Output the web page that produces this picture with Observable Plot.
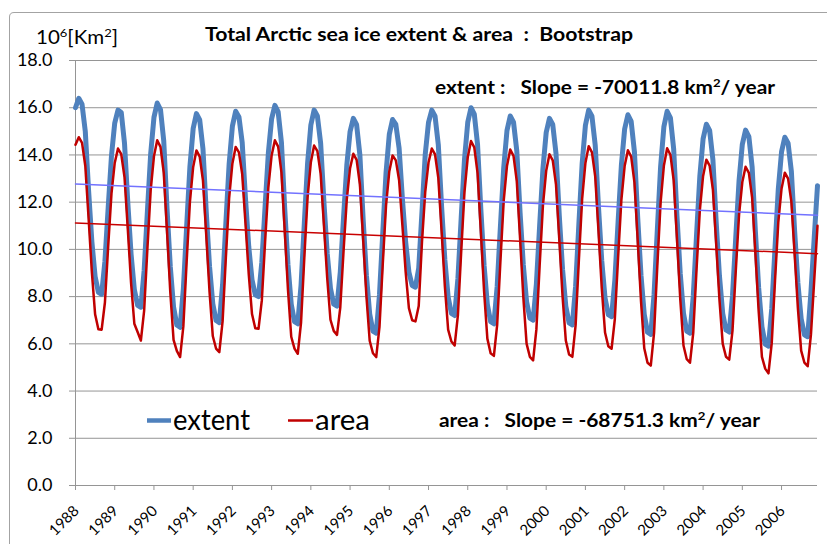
<!DOCTYPE html>
<html>
<head>
<meta charset="utf-8">
<script src="https://cdn.jsdelivr.net/npm/d3@7"></script>
<script src="https://cdn.jsdelivr.net/npm/@observablehq/plot@0.6"></script>
<style>
  html, body { margin: 0; padding: 0; background: #fff; }
  #wrap { position: relative; width: 827px; height: 544px; overflow: hidden; background: #fff; }
  #chart, #overlay { position: absolute; left: 0; top: 0; }
  #overlay { pointer-events: none; }
  #overlay text { white-space: pre; font-family: Lato, "DejaVu Sans", sans-serif; fill: #000; }
</style>
</head>
<body>
<div id="wrap">
  <div id="chart"></div>
  <svg id="overlay" width="827" height="544" xmlns="http://www.w3.org/2000/svg">
    <path d="M9.5,544 V17 Q9.5,12.5 14,12.5 H827" fill="none" stroke="#a3a3a3" stroke-width="1"/>
    <text x="205" y="41" font-size="19" font-weight="bold" textLength="428" lengthAdjust="spacingAndGlyphs">Total Arctic sea ice extent &amp; area  :  Bootstrap</text>
    <text x="36" y="44" font-size="19" textLength="82" lengthAdjust="spacingAndGlyphs">10<tspan dy="-7" font-size="12">6</tspan><tspan dy="7">[Km</tspan><tspan dy="-7" font-size="12">2</tspan><tspan dy="7">]</tspan></text>
    <text x="435" y="94" font-size="19" font-weight="bold" textLength="340" lengthAdjust="spacingAndGlyphs">extent :   Slope = -70011.8 km<tspan dy="-7" font-size="12">2</tspan><tspan dy="7">/ year</tspan></text>
    <text x="439" y="427" font-size="19" font-weight="bold" textLength="321" lengthAdjust="spacingAndGlyphs">area :   Slope = -68751.3 km<tspan dy="-7" font-size="12">2</tspan><tspan dy="7">/ year</tspan></text>
    <line x1="147" x2="171" y1="420.5" y2="420.5" stroke="#4F81BD" stroke-width="4.5"/>
    <text x="173" y="430" font-size="28" textLength="77" lengthAdjust="spacingAndGlyphs">extent</text>
    <line x1="288" x2="313" y1="420.5" y2="420.5" stroke="#C00000" stroke-width="2.5"/>
    <text x="315" y="430" font-size="28" textLength="55" lengthAdjust="spacingAndGlyphs">area</text>
  </svg>
</div>
<script>
// Monthly data, January 1988 to December 2006 (10^6 km^2)
const startYear = 1988;

const extent = [
  16.0, 16.4, 16.15, 14.99, 12.5, 10.34, 8.85, 8.18, 8.1, 9.5, 11.77, 13.95,
  15.35, 15.9, 15.8, 14.48, 11.98, 9.8, 8.3, 7.63, 7.55, 9.11, 11.62, 14.04,
  15.59, 16.2, 15.92, 14.59, 11.74, 9.27, 7.56, 6.8, 6.7, 8.33, 10.95, 13.49,
  15.12, 15.75, 15.48, 14.25, 11.59, 9.29, 7.7, 6.99, 6.9, 8.51, 11.11, 13.61,
  15.22, 15.85, 15.61, 14.52, 12.16, 10.12, 8.71, 8.08, 8.0, 9.46, 11.81, 14.08,
  15.53, 16.1, 15.82, 14.53, 11.75, 9.35, 7.68, 6.94, 6.85, 8.48, 11.1, 13.64,
  15.27, 15.9, 15.65, 14.49, 12.0, 9.84, 8.35, 7.68, 7.6, 9.03, 11.34, 13.56,
  14.99, 15.55, 15.28, 14.0, 11.27, 8.91, 7.27, 6.54, 6.45, 8.08, 10.7, 13.24,
  14.87, 15.5, 15.29, 14.29, 12.16, 10.32, 9.04, 8.47, 8.4, 9.2, 11.6, 14.03,
  15.38, 15.9, 15.64, 14.42, 11.81, 9.55, 7.98, 7.29, 7.2, 8.78, 11.34, 13.8,
  15.38, 16.0, 15.73, 14.44, 11.7, 9.32, 7.67, 6.94, 6.85, 8.43, 10.99, 13.45,
  15.03, 15.65, 15.39, 14.18, 11.58, 9.34, 7.78, 7.09, 7.0, 8.54, 11.02, 13.41,
  14.95, 15.55, 15.29, 14.06, 11.44, 9.16, 7.59, 6.89, 6.8, 8.44, 11.08, 13.63,
  15.26, 15.9, 15.64, 14.41, 11.79, 9.51, 7.94, 7.24, 7.15, 8.69, 11.17, 13.56,
  15.1, 15.7, 15.42, 14.12, 11.33, 8.91, 7.24, 6.49, 6.4, 8.1, 10.84, 13.49,
  15.19, 15.85, 15.57, 14.25, 11.43, 8.99, 7.3, 6.54, 6.45, 8.04, 10.61, 13.09,
  14.68, 15.3, 15.04, 13.8, 11.16, 8.88, 7.29, 6.59, 6.5, 8.04, 10.52, 12.91,
  14.45, 15.05, 14.78, 13.49, 10.75, 8.37, 6.72, 5.99, 5.9, 7.49, 10.06, 12.54,
  14.13, 14.75, 14.5, 13.31, 10.78, 8.58, 7.06, 6.38, 6.3, 8.2, 10.5, 12.7
];

const area = [
  14.43, 14.75, 14.51, 13.53, 11.33, 9.05, 7.25, 6.62, 6.6, 7.75, 10.13, 12.35,
  13.66, 14.27, 14.03, 13.05, 10.86, 8.58, 6.85, 6.5, 6.14, 7.41, 10.04, 12.5,
  13.94, 14.62, 14.34, 13.24, 10.76, 8.19, 6.17, 5.7, 5.44, 6.75, 9.47, 12.0,
  13.49, 14.19, 13.93, 12.91, 10.6, 8.21, 6.33, 5.8, 5.65, 6.95, 9.65, 12.17,
  13.64, 14.34, 14.11, 13.19, 11.11, 8.95, 7.26, 6.66, 6.64, 7.84, 10.31, 12.63,
  13.98, 14.62, 14.35, 13.26, 10.82, 8.29, 6.3, 5.8, 5.58, 6.9, 9.64, 12.2,
  13.69, 14.4, 14.16, 13.2, 11.03, 8.79, 7.02, 6.55, 6.38, 7.53, 9.91, 12.13,
  13.44, 14.05, 13.79, 12.76, 10.43, 8.02, 6.13, 5.6, 5.44, 6.72, 9.37, 11.85,
  13.3, 13.98, 13.77, 12.93, 11.03, 9.06, 7.51, 7.0, 6.95, 7.6, 10.32, 12.44,
  13.68, 14.27, 14.02, 13.02, 10.77, 8.43, 6.6, 6.1, 5.93, 7.23, 9.91, 12.43,
  13.9, 14.59, 14.32, 13.23, 10.77, 8.22, 6.22, 5.6, 5.49, 6.8, 9.51, 12.05,
  13.53, 14.23, 13.96, 12.89, 10.48, 7.98, 6.01, 5.45, 5.3, 6.61, 9.32, 11.85,
  13.33, 14.03, 13.77, 12.74, 10.43, 8.02, 6.14, 5.55, 5.45, 6.79, 9.55, 12.14,
  13.66, 14.37, 14.11, 13.08, 10.77, 8.36, 6.48, 5.9, 5.79, 7.05, 9.66, 12.1,
  13.53, 14.2, 13.93, 12.83, 10.37, 7.82, 5.81, 5.2, 5.08, 6.46, 9.31, 11.98,
  13.54, 14.28, 14.01, 12.92, 10.47, 7.92, 5.93, 5.35, 5.2, 6.49, 9.16, 11.65,
  13.11, 13.8, 13.55, 12.53, 10.24, 7.87, 6.01, 5.45, 5.33, 6.56, 9.09, 11.46,
  12.85, 13.5, 13.24, 12.19, 9.83, 7.38, 5.45, 4.95, 4.75, 6.03, 8.66, 11.13,
  12.57, 13.25, 13.0, 12.02, 9.81, 7.51, 5.71, 5.2, 5.05, 6.4, 8.7, 11.0
];

// Linear trends: value at start (10^6 km^2) and slope (km^2 / year)
const extentTrend = { start: 12.77, slopeKm2: -70011.8 };
const areaTrend = { start: 11.12, slopeKm2: -68751.3 };

const yearTicks = [1988, 1989, 1990, 1991, 1992, 1993, 1994, 1995, 1996, 1997,
                   1998, 1999, 2000, 2001, 2002, 2003, 2004, 2005, 2006];
const yTicks = [0, 2, 4, 6, 8, 10, 12, 14, 16, 18];

const rows = extent.map((v, i) => ({ t: startYear + i / 12, extent: v, area: area[i] }));
const tEnd = startYear + (extent.length - 1) / 12;
const trendLine = (tr) => [
  { t: startYear, v: tr.start },
  { t: tEnd, v: tr.start + (tr.slopeKm2 / 1e6) * (tEnd - startYear) }
];

const grey = "#959595";

const chart = Plot.plot({
  width: 827,
  height: 544,
  marginLeft: 75,
  marginRight: 10,
  marginTop: 60,
  marginBottom: 59,
  style: { background: "transparent", fontFamily: "Lato, 'DejaVu Sans', sans-serif", overflow: "visible" },
  x: { type: "linear", domain: [startYear, tEnd] },
  y: { domain: [0, 18] },
  marks: [
    Plot.gridY(yTicks, { stroke: grey, strokeOpacity: 1 }),
    Plot.axisY(yTicks, {
      tickFormat: d3.format(".1f"), tickSize: 6, tickPadding: 17, fontSize: 18,
      stroke: grey, fill: "#000", label: null
    }),
    Plot.axisX(yearTicks, { tickFormat: () => "", tickSize: 5, stroke: grey, label: null }),
    Plot.text(yearTicks, {
      x: d => d, frameAnchor: "bottom", text: d => String(d), rotate: -45,
      textAnchor: "end", lineAnchor: "middle", dx: 1, dy: 23, fontSize: 15, fill: "#000"
    }),
    Plot.ruleX([startYear], { stroke: grey }),
    Plot.ruleY([0], { stroke: grey }),
    Plot.line(rows, { x: "t", y: "extent", stroke: "#4F81BD", strokeWidth: 5, strokeLinejoin: "round" }),
    Plot.line(rows, { x: "t", y: "area", stroke: "#C00000", strokeWidth: 2.5, strokeLinejoin: "round" }),
    Plot.line(trendLine(extentTrend), { x: "t", y: "v", stroke: "#7272FF", strokeWidth: 1.5 }),
    Plot.line(trendLine(areaTrend), { x: "t", y: "v", stroke: "#C80000", strokeWidth: 1.5 })
  ]
});
document.getElementById("chart").appendChild(chart);
</script>
</body>
</html>
